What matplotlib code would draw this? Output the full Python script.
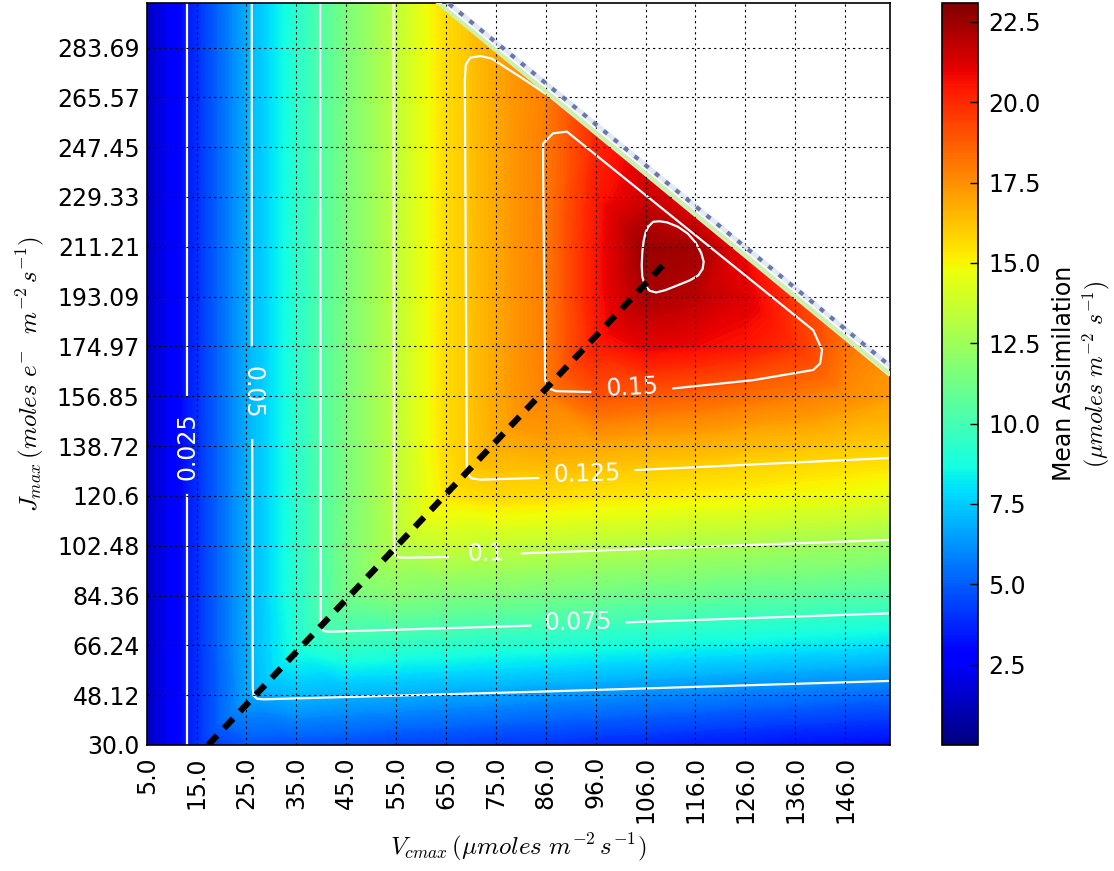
import numpy as np
import matplotlib
matplotlib.use("Agg")
import matplotlib.pyplot as plt
import matplotlib.tri as mtri
from matplotlib.cm import ScalarMappable
from matplotlib.colors import Normalize

plt.rcParams["font.family"] = "DejaVu Sans"
plt.rcParams["mathtext.fontset"] = "cm"

nan = np.nan

# sample points (Vcmax columns, Jmax rows) - tick positions + far edge
vcmax = [5.0, 15.07, 25.13, 35.2, 45.27, 55.34, 65.4, 75.47, 85.54, 95.6,
         105.67, 115.74, 125.8, 135.87, 145.94, 155.0]
jmax = [30.0, 48.12, 66.24, 84.36, 102.48, 120.6, 138.72, 156.85, 174.97,
        193.09, 211.21, 229.33, 247.45, 265.57, 283.69, 300.0]

vc_labels = ["5.0", "15.0", "25.0", "35.0", "45.0", "55.0", "65.0", "75.0",
             "86.0", "96.0", "106.0", "116.0", "126.0", "136.0", "146.0"]
j_labels = ["30.0", "48.12", "66.24", "84.36", "102.48", "120.6", "138.72",
            "156.85", "174.97", "193.09", "211.21", "229.33", "247.45",
            "265.57", "283.69"]

# mean assimilation, one row per Jmax value (bottom -> top)
assim = [
    [1.3, 3.9, 4.8, 4.7, 4.6, 4.4, 4.3, 4.1, 4.0, 3.8, 3.7, 3.5, 3.4, 3.2, 3.1, 3.0],
    [1.3, 3.9, 6.6, 7.1, 6.9, 6.8, 6.6, 6.5, 6.3, 6.2, 6.0, 5.9, 5.7, 5.6, 5.4, 5.3],
    [1.3, 3.9, 6.8, 9.0, 9.6, 9.4, 9.3, 9.1, 9.0, 8.8, 8.7, 8.5, 8.4, 8.2, 8.1, 7.9],
    [1.3, 3.9, 6.8, 9.2, 11.3, 11.8, 11.6, 11.5, 11.3, 11.2, 11.0, 10.9, 10.7, 10.6, 10.4, 10.3],
    [1.3, 3.9, 6.8, 9.2, 11.5, 13.2, 13.7, 13.5, 13.4, 13.2, 13.1, 12.9, 12.8, 12.6, 12.5, 12.3],
    [1.3, 3.9, 6.8, 9.2, 11.5, 13.4, 15.4, 15.7, 15.6, 15.4, 15.3, 15.1, 15.0, 14.8, 14.7, 14.5],
    [1.3, 3.9, 6.8, 9.2, 11.5, 13.4, 15.6, 16.8, 17.0, 16.9, 16.7, 16.6, 16.4, 16.3, 16.1, 16.0],
    [1.3, 3.9, 6.8, 9.2, 11.5, 13.4, 15.6, 16.9, 17.9, 19.0, 18.8, 18.6, 18.3, 18.0, 17.6, 17.2],
    [1.3, 3.9, 6.8, 9.2, 11.5, 13.4, 15.6, 16.9, 18.0, 20.3, 21.0, 20.8, 20.5, 19.8, nan, nan],
    [1.3, 3.9, 6.8, 9.2, 11.5, 13.4, 15.6, 16.9, 18.0, 20.5, 22.2, 21.9, 21.2, nan, nan, nan],
    [1.3, 3.9, 6.8, 9.2, 11.5, 13.4, 15.6, 16.9, 18.0, 20.5, 22.6, 22.4, nan, nan, nan, nan],
    [1.3, 3.9, 6.8, 9.2, 11.5, 13.4, 15.6, 16.9, 18.0, 20.4, 21.5, nan, nan, nan, nan, nan],
    [1.3, 3.9, 6.8, 9.2, 11.5, 13.4, 15.6, 16.9, 18.0, 20.1, nan, nan, nan, nan, nan, nan],
    [1.3, 3.9, 6.8, 9.2, 11.5, 13.4, 15.6, 16.9, nan, nan, nan, nan, nan, nan, nan, nan],
    [1.3, 3.9, 6.8, 9.2, 11.5, 13.4, 15.6, nan, nan, nan, nan, nan, nan, nan, nan, nan],
    [1.3, 3.9, 6.8, 9.2, 11.5, 13.4, nan, nan, nan, nan, nan, nan, nan, nan, nan, nan],
]

# values along the edge of the blank (no-solution) corner
rim_vc = [63.8, 65.4, 75.47, 85.54, 95.6, 105.67, 115.74, 125.8, 135.87, 145.94, 155.0]
rim_j = [300.0, 297.6, 282.7, 267.8, 252.9, 238.0, 223.1, 208.2, 193.3, 178.4, 165.0]
rim_a = [15.4, 15.6, 16.9, 17.9, 20.0, 21.3, 21.3, 20.8, 19.6, 18.3, 17.3]
fringe_vc = [66.0, 155.0]
fringe_j = [299.6, 167.9]

a_range = (0.0, 23.1)
cb_ticks = [2.5, 5.0, 7.5, 10.0, 12.5, 15.0, 17.5, 20.0, 22.5]

c025_vc = [13.2, 13.2, nan, 13.2, 13.2]
c025_j = [30.0, 120.9, nan, 157.3, 300.0]
c05_vc = [26.2, 26.2, nan, 26.3, 26.4, 26.6, 27.3, 28.5, 84.4, 155.0]
c05_j = [300.0, 175.5, nan, 140.9, 50.5, 47.8, 46.8, 46.6, 49.4, 53.3]
c075_vc = [40.0, 40.1, 40.3, 40.8, 42.0, 82.4, nan, 101.8, 155.0]
c075_j = [300.0, 74.5, 72.2, 71.4, 71.2, 73.4, nan, 74.6, 77.9]
c1_vc = [54.8, 54.9, 55.2, 55.8, 57.0, 65.8, nan, 80.7, 155.0]
c1_j = [300.0, 101.0, 99.0, 98.3, 98.1, 98.4, nan, 99.7, 104.6]
c125_vc = [155.0, 103.7, nan, 84.0, 72.3, 70.5, 69.9, 69.6, 69.2, 69.4, 70.3,
           72.3, 74.6, 80.3, 86.4, 155.0]
c125_j = [134.4, 130.0, nan, 127.1, 126.5, 127.0, 128.5, 131.0, 272.0, 277.5,
          280.0, 280.6, 279.7, 273.1, 265.8, 164.2]
c15_vc = [94.5, 87.6, 86.0, 85.4, 85.0, 85.0, 87.0, 89.8, 107.2, 139.5, 141.3,
          140.9, 139.5, 127.4, 111.3]
c15_j = [158.4, 158.7, 159.8, 162.7, 240.0, 248.8, 252.5, 253.1, 227.8, 180.9,
         173.7, 168.8, 166.4, 162.7, 159.7]
c175_vc = [106.2, 107.2, 108.5, 110.0, 112.2, 114.2, 115.8, 116.9, 117.4, 117.2,
           116.3, 114.6, 112.0, 109.6, 107.8, 106.5, 105.5, 105.0, 104.9, 105.0,
           105.3, 105.7, 106.2]
c175_j = [218.5, 220.3, 220.5, 220.1, 218.5, 216.0, 212.7, 209.0, 205.8, 203.2,
          200.8, 199.0, 197.1, 195.4, 194.6, 195.2, 197.3, 200.5, 204.5, 209.0,
          213.5, 216.5, 218.5]

# contour label text, position, rotation
clab_text = ["0.025", "0.05", "0.075", "0.1", "0.125", "0.15"]
clab_vc = [13.2, 26.25, 92.1, 73.5, 93.9, 103.0]
clab_j = [138.7, 158.2, 74.6, 99.6, 128.6, 159.8]
clab_rot = [90, 270, 1, 1, 1.5, 3]

# optimum Jmax/Vcmax line
opt_vc = [17.4, 110.2]
opt_j = [30.0, 206.4]


fig = plt.figure(figsize=(11.14, 8.71), dpi=100)
ax = fig.add_axes([0.1317, 0.1447, 0.6672, 0.8522])
cax = fig.add_axes([0.8453, 0.1447, 0.0329, 0.8522])

a_grid = np.array(assim, dtype=float)
gx, gy = np.meshgrid(vcmax, jmax)
ok = ~np.isnan(a_grid)
pts_x = np.concatenate([gx[ok], rim_vc])
pts_y = np.concatenate([gy[ok], rim_j])
pts_a = np.concatenate([a_grid[ok], rim_a])
tri = mtri.Triangulation(pts_x, pts_y)

ax.tricontourf(tri, pts_a, levels=np.linspace(a_range[0], a_range[1], 232),
               cmap="jet", antialiased=False, zorder=1)

# pale strip and smudge along the edge of the blank region
ax.plot(rim_vc, rim_j, color="#cdf0b0", lw=3, zorder=3)
ax.plot(fringe_vc, fringe_j, color="#c8d4ea", lw=3.5, alpha=0.5, zorder=3)
ax.plot(fringe_vc, fringe_j, color="#55639f", lw=3, dashes=(1.2, 2.0), alpha=0.85, zorder=3)

for cx, cy in [(c025_vc, c025_j), (c05_vc, c05_j), (c075_vc, c075_j), (c1_vc, c1_j),
               (c125_vc, c125_j), (c15_vc, c15_j), (c175_vc, c175_j)]:
    ax.plot(cx, cy, color="white", lw=1.6, zorder=2)

for t, x, y, r in zip(clab_text, clab_vc, clab_j, clab_rot):
    ax.text(x, y, t, color="white", fontsize=17, rotation=r,
            ha="center", va="center", rotation_mode="anchor", zorder=2)

ax.plot(opt_vc, opt_j, color="black", lw=4.5, dashes=(2.1, 1.6),
        dash_capstyle="butt", zorder=4)

ax.set_xlim(5, 155)
ax.set_ylim(30, 300)
ax.set_xticks(vcmax[:-1])
ax.set_xticklabels(vc_labels, rotation=90)
ax.set_yticks(jmax[:-1])
ax.set_yticklabels(j_labels)
ax.tick_params(axis="both", length=0, labelsize=17)
ax.tick_params(axis="x", pad=8)
ax.tick_params(axis="y", pad=5)
ax.set_axisbelow(False)
ax.grid(True, color="black", linestyle=(0, (2, 3)), linewidth=0.8)
for s in ax.spines.values():
    s.set_linewidth(1.2)

ax.set_xlabel(r"$V_{cmax}\,(\mu moles\ m^{-2}\,s^{-1})$", fontsize=18, labelpad=6)
ax.set_ylabel(r"$J_{max}\,(moles\ e^{-}\ \ m^{-2}\,s^{-1})$", fontsize=18, labelpad=8)

sm = ScalarMappable(norm=Normalize(*a_range), cmap="jet")
cb = fig.colorbar(sm, cax=cax, ticks=cb_ticks)
cb.ax.set_yticklabels(["%.1f" % v for v in cb_ticks])
cb.ax.tick_params(direction="in", length=6, width=1, labelsize=17, pad=7)
cb.outline.set_linewidth(1.2)
cb.set_label("Mean Assimilation\n" + r"$(\mu moles\ m^{-2}\ s^{-1})$", fontsize=17, labelpad=8)

fig.savefig("out.png", dpi=100)
